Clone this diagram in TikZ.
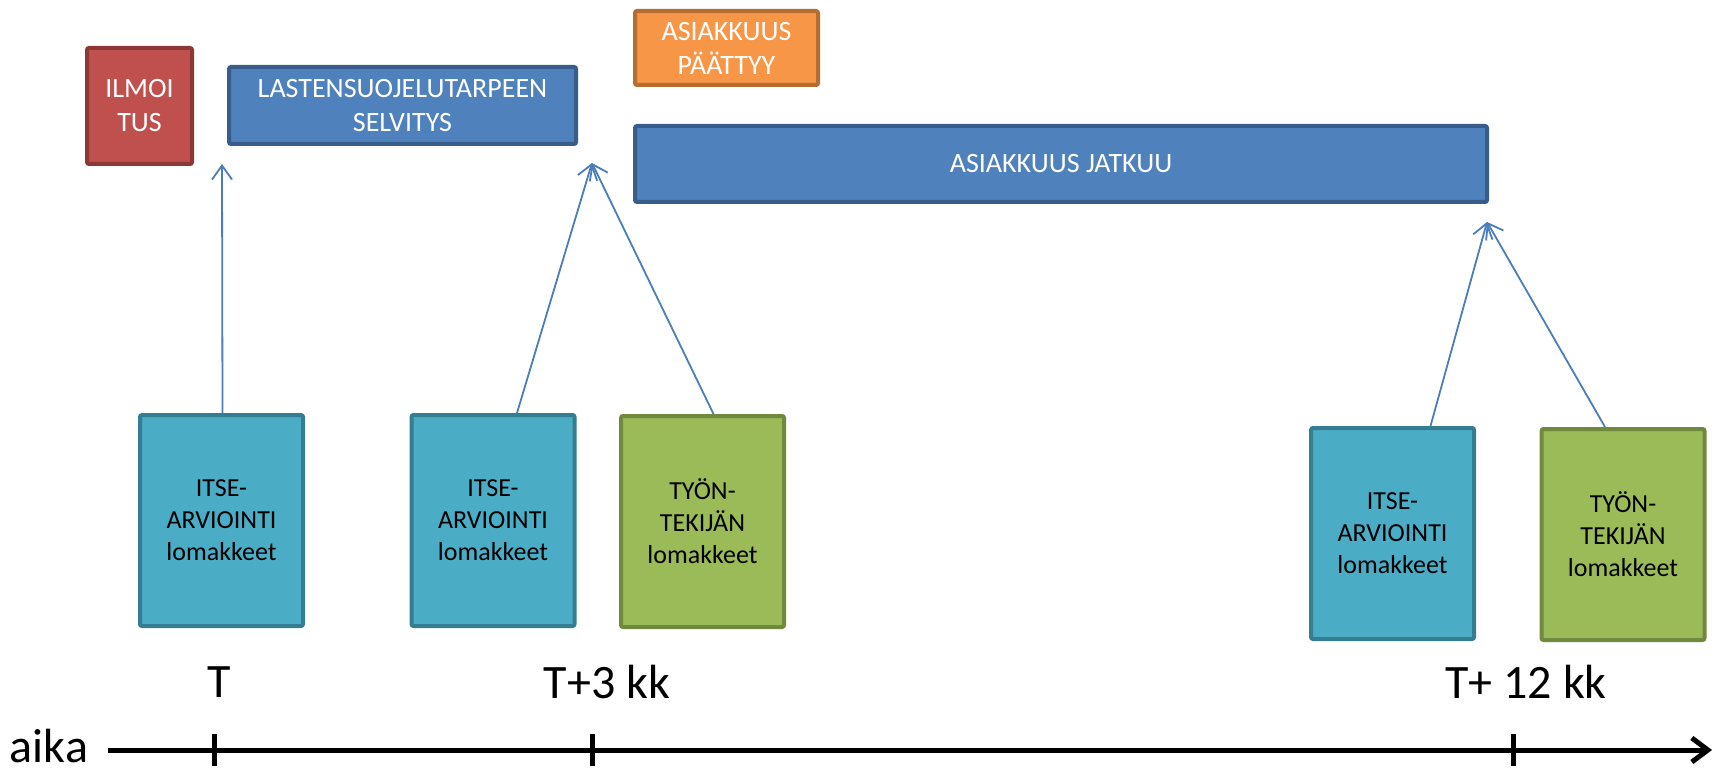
\documentclass[tikz,border=0pt]{standalone}
\usepackage{fontspec}
\setmainfont{Carlito}
\usetikzlibrary{arrows.meta}
\definecolor{ilmofill}{HTML}{C0504D}
\definecolor{ilmoline}{HTML}{8C3836}
\definecolor{bluefill}{HTML}{4F81BD}
\definecolor{blueline}{HTML}{385D8A}
\definecolor{orangefill}{HTML}{F79646}
\definecolor{orangeline}{HTML}{B66D31}
\definecolor{aquafill}{HTML}{4BACC6}
\definecolor{aqualine}{HTML}{357D91}
\definecolor{greenfill}{HTML}{9BBB59}
\definecolor{greenline}{HTML}{71893F}
\definecolor{arrowblue}{HTML}{4A7EBB}

\tikzset{
  topbox/.style={draw, line width=2pt, rounded corners=1pt, text=white, align=center,
    font=\fontsize{14pt}{17pt}\selectfont, inner sep=0pt},
  formbox/.style={draw, line width=2pt, rounded corners=1pt, text=black, align=center,
    font=\fontsize{13pt}{16pt}\selectfont, inner sep=0pt,
    minimum width=81.5pt, minimum height=105.5pt},
  uparrow/.style={arrowblue, line width=0.9pt, -{Straight Barb[length=7pt,width=10pt]}},
  timelabel/.style={font=\fontsize{24pt}{28pt}\selectfont, anchor=base, inner sep=0pt, text depth=0pt},
}

\begin{document}
\begin{tikzpicture}[x=0.5pt,y=-0.5pt]
    \useasboundingbox (0,0) rectangle (1717,770);

    % upper boxes
    \node[topbox, fill=ilmofill, draw=ilmoline, minimum width=52.5pt, minimum height=58pt]
        (ilmo) at (139.5,106) {ILMOI\\TUS};
    \node[topbox, fill=bluefill, draw=blueline, minimum width=173.5pt, minimum height=38.5pt]
        (selvitys) at (402.5,105.5) {LASTENSUOJELUTARPEEN\\SELVITYS};
    \node[topbox, fill=orangefill, draw=orangeline, minimum width=91.5pt, minimum height=37pt]
        (paattyy) at (726.5,48) {ASIAKKUUS\\PÄÄTTYY};
    \node[topbox, fill=bluefill, draw=blueline, minimum width=426pt, minimum height=38pt]
        (jatkuu) at (1061,164) {ASIAKKUUS JATKUU};

    % lomakkeet
    \node[formbox, fill=aquafill, draw=aqualine] (itseA) at (221.5,520.5) {ITSE-\\ARVIOINTI\\lomakkeet};
    \node[formbox, fill=aquafill, draw=aqualine] (itseB) at (493,520.5) {ITSE-\\ARVIOINTI\\lomakkeet};
    \node[formbox, fill=greenfill, draw=greenline] (tyonB) at (702.5,521.5) {TYÖN-\\TEKIJÄN\\lomakkeet};
    \node[formbox, fill=aquafill, draw=aqualine] (itseC) at (1392.5,533.5) {ITSE-\\ARVIOINTI\\lomakkeet};
    \node[formbox, fill=greenfill, draw=greenline] (tyonC) at (1623,534.5) {TYÖN-\\TEKIJÄN\\lomakkeet};

    % arrow targets
    \coordinate (tipA) at (222,164);
    \coordinate (tipB) at (592,163);
    \coordinate (tipC) at (1487,222);

    \draw[uparrow] ([xshift=0.5pt]itseA.north) -- (tipA);
    \draw[uparrow] ([xshift=12pt]itseB.north) -- (tipB);
    \draw[uparrow] ([xshift=5.5pt]tyonB.north) -- (tipB);
    \draw[uparrow] ([xshift=19pt]itseC.north) -- (tipC);
    \draw[uparrow] ([xshift=-9pt]tyonC.north) -- (tipC);

    % time axis
    \coordinate (axisstart) at (108,750);
    \coordinate (axisend) at (1712,750);
    \draw[line width=2.5pt, -{Straight Barb[length=8pt,width=12pt]}] (axisstart) -- (axisend);
    \foreach \name/\x in {tickT/214, tickB/592, tickC/1513} {
        \coordinate (\name) at (\x,750);
        \draw[line width=2.5pt] ([yshift=8pt]\name) -- ([yshift=-8pt]\name);
    }

    \node[timelabel] (aika) at (49,762) {aika};
    \node[timelabel] (labT) at (219,697) {T};
    \node[timelabel] (labB) at (607,698) {T+3 kk};
    \node[timelabel] (labC) at (1526,698) {T+ 12 kk};
\end{tikzpicture}
\end{document}
